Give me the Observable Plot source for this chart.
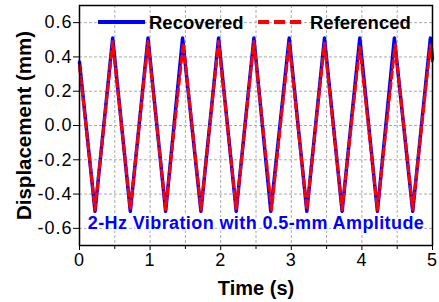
<!DOCTYPE html>
<html><head><meta charset="utf-8">
<script src="https://cdn.jsdelivr.net/npm/d3@7"></script>
<script src="https://cdn.jsdelivr.net/npm/@observablehq/plot@0.6"></script>
<style>
body{margin:0;background:#fff;}
#wrap{position:relative;width:439px;height:302px;font-family:"Liberation Sans",Arial,sans-serif;}
#wrap svg{font-family:"Liberation Sans",Arial,sans-serif;}
g[aria-label="x-axis label"]{font-weight:bold;font-size:20px;}
g[aria-label="y-axis label"]{font-weight:bold;font-size:20.5px;}
g[aria-label="y-axis tick label"],g[aria-label="x-axis tick label"]{letter-spacing:1px;}
</style></head>
<body><div id="wrap"></div>
<script>
// Recovered series: times of start, alternating troughs/peaks, end
const recTime = [0, 0.22, 0.47, 0.72, 0.97, 1.22, 1.46, 1.72, 1.97, 2.22, 2.47, 2.71, 2.97, 3.22, 3.47, 3.72, 3.97, 4.22, 4.46, 4.72, 4.97, 5];
const recValue = [0.37, -0.50, 0.51, -0.50, 0.51, -0.50, 0.51, -0.50, 0.51, -0.50, 0.51, -0.50, 0.51, -0.50, 0.51, -0.50, 0.51, -0.50, 0.51, -0.50, 0.51, 0.39];
// Referenced series
const refTime = [0, 0.22, 0.47, 0.72, 0.97, 1.22, 1.47, 1.72, 1.97, 2.22, 2.47, 2.72, 2.97, 3.22, 3.47, 3.72, 3.97, 4.22, 4.47, 4.72, 4.97, 5];
const refValue = [0.35, -0.49, 0.49, -0.49, 0.49, -0.49, 0.48, -0.49, 0.49, -0.49, 0.49, -0.49, 0.48, -0.49, 0.48, -0.49, 0.46, -0.49, 0.47, -0.49, 0.47, 0.36];
const xTicks = [0, 1, 2, 3, 4, 5];
const xMinor = [0.5, 1.5, 2.5, 3.5, 4.5];
const xGrid = [0.5, 1, 1.5, 2, 2.5, 3, 3.5, 4, 4.5];
const yTicks = [-0.6, -0.4, -0.2, 0, 0.2, 0.4, 0.6];
const seriesNames = ["Recovered", "Referenced"];
const annotation = "2-Hz Vibration with 0.5-mm Amplitude";

const rec = recTime.map((t, i) => ({t, v: recValue[i]}));
const ref = refTime.map((t, i) => ({t, v: refValue[i]}));

const plot = Plot.plot({
  width: 439, height: 302,
  marginLeft: 79, marginRight: 7, marginTop: 5, marginBottom: 57,
  x: {domain: [0, 5]},
  y: {domain: [-0.7, 0.7]},
  style: {fontSize: "18px", fontFamily: "'Liberation Sans', Arial, sans-serif", color: "black", background: "white"},
  marks: [
    Plot.gridX(xGrid, {stroke: "#aaa", strokeOpacity: 1, strokeDasharray: "3,2"}),
    Plot.gridY(yTicks, {stroke: "#aaa", strokeOpacity: 1, strokeDasharray: "3,2"}),
    Plot.axisX({ticks: xTicks, tickSize: 5, tickPadding: 3, tickFormat: d => String(d), label: "Time (s)", labelAnchor: "center", labelArrow: "none", labelOffset: 49}),
    Plot.axisX({ticks: xMinor, tickSize: 4, tickFormat: () => "", label: null}),
    Plot.axisY({ticks: yTicks, tickSize: 6, tickPadding: 1, tickFormat: d => d.toFixed(1), label: "Displacement (mm)", labelAnchor: "center", labelArrow: "none", labelOffset: 63}),
    Plot.line(rec, {x: "t", y: "v", stroke: "#0000ff", strokeWidth: 3.5, strokeLinejoin: "round"}),
    Plot.line(ref, {x: "t", y: "v", stroke: "#ff0000", strokeWidth: 3, strokeDasharray: "7,4"}),
    Plot.text([annotation], {frameAnchor: "bottom", dy: -17, fill: "#0000ff", fontWeight: "bold", fontSize: 18, stroke: "white", strokeWidth: 4, style: "letter-spacing:0.4px"}),
    Plot.frame({stroke: "black", strokeWidth: 1.5})
  ]
});
const wrap = document.getElementById("wrap");
wrap.appendChild(plot);
plot.querySelectorAll('g[aria-label="text"] text').forEach(t => t.style.letterSpacing = "0.4px");

// legend overlay
const ns = "http://www.w3.org/2000/svg";
const lg = document.createElementNS(ns, "svg");
lg.setAttribute("width", 439); lg.setAttribute("height", 40);
lg.setAttribute("style", "position:absolute;left:0;top:0;font-family:'Liberation Sans',Arial,sans-serif");
lg.innerHTML = `
  <line x1="98" x2="145" y1="22" y2="22" stroke="#0000ff" stroke-width="4"/>
  <line x1="258" x2="303" y1="22" y2="22" stroke="#ff0000" stroke-width="4" stroke-dasharray="11,5"/>
  <text x="149" y="29" font-size="18.5" font-weight="bold">${seriesNames[0]}</text>
  <text x="310" y="29" font-size="18.5" font-weight="bold">${seriesNames[1]}</text>`;
wrap.appendChild(lg);
</script></body></html>
